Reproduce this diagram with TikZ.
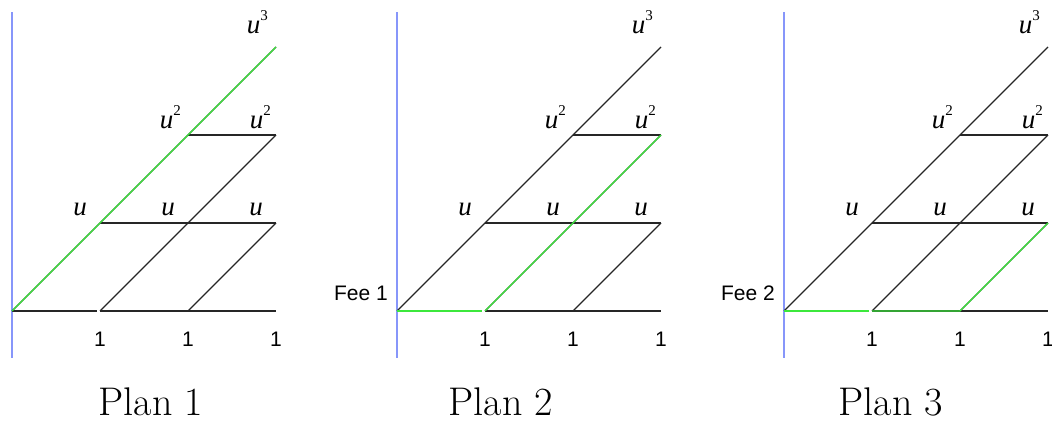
\documentclass[tikz,border=0pt]{standalone}
\usepackage{fontspec}
\usepackage{xcolor}
\usepackage{tikz}
\usetikzlibrary{positioning}
\newfontfamily\arialf{Liberation Sans}
\newfontfamily\timesf{Liberation Serif}
\definecolor{axisblue}{RGB}{135,150,250}
\definecolor{paygreen}{RGB}{60,232,60}
\newcommand{\upow}[1]{{\itshape u}\raisebox{13pt}{\upshape\fontsize{15}{15}\selectfont #1}}

\begin{document}
\begin{tikzpicture}[x=1pt,y=1pt,
  edge/.style={line width=1.1pt,black!85},
  hot/.style={line width=1.1pt,paygreen},
  axis/.style={line width=1.1pt,axisblue},
  ulab/.style={font=\timesf\itshape\fontsize{27}{27}\selectfont,inner sep=0pt},
  onelab/.style={font=\arialf\fontsize{21}{21}\selectfont,inner sep=0pt},
  feelab/.style={font=\arialf\fontsize{21}{21}\selectfont,inner sep=0pt},
  planlab/.style={font=\fontsize{40}{44}\selectfont,inner sep=0pt,anchor=base}]
 \useasboundingbox (0,0) rectangle (1052,422);
 \foreach \p/\ox/\tx in {1/12/151,2/397/501,3/784/891}{
   % lattice points: \n steps to the right, \j levels up
   \foreach \n in {0,...,3}{\foreach \j in {0,...,\n}{\coordinate (p\p-\n-\j) at (\ox+\n*88,111+\j*88);}}
   \coordinate (bot\p) at (\ox,64); \coordinate (top\p) at (\ox,410);
   \draw[axis] (bot\p) -- (top\p);
   \draw[edge,shorten >=3pt] (p\p-0-0) -- (p\p-1-0);
   \draw[edge] (p\p-1-0) -- (p\p-3-0);
   \draw[edge] (p\p-1-1) -- (p\p-3-1);
   \draw[edge] (p\p-2-2) -- (p\p-3-2);
   \draw[edge] (p\p-0-0) -- (p\p-3-3);
   \draw[edge] (p\p-1-0) -- (p\p-3-2);
   \draw[edge] (p\p-2-0) -- (p\p-3-1);
   \foreach \n in {1,2,3}{
     \node[ulab,above left=7pt and 13pt of p\p-\n-1] (u\p-\n) {u};
     \node[onelab,below=21pt of p\p-\n-0] (one\p-\n) {1};}
   \node[ulab,above left=6pt and 7pt of p\p-2-2] (uu\p-2) {\upow{2}};
   \node[ulab,above left=6pt and 5pt of p\p-3-2] (uu\p-3) {\upow{2}};
   \node[ulab,above left=13pt and 8pt of p\p-3-3] (uuu\p) {\upow{3}};
   \node[planlab] (plan\p) at (\tx,6) {Plan \p};
 }
 % the payment paths
 \draw[hot] (p1-0-0) -- (p1-3-3);
 \draw[hot,shorten >=3pt] (p2-0-0) -- (p2-1-0);
 \draw[hot] (p2-1-0) -- (p2-3-2);
 \draw[hot,shorten >=3pt] (p3-0-0) -- (p3-1-0);
 \draw[hot] (p3-1-0) -- (p3-2-0) -- (p3-3-1);
 \node[feelab,above left=10pt and 9pt of p2-0-0] (fee1) {Fee 1};
 \node[feelab,above left=10pt and 9pt of p3-0-0] (fee2) {Fee 2};
\end{tikzpicture}
\end{document}
